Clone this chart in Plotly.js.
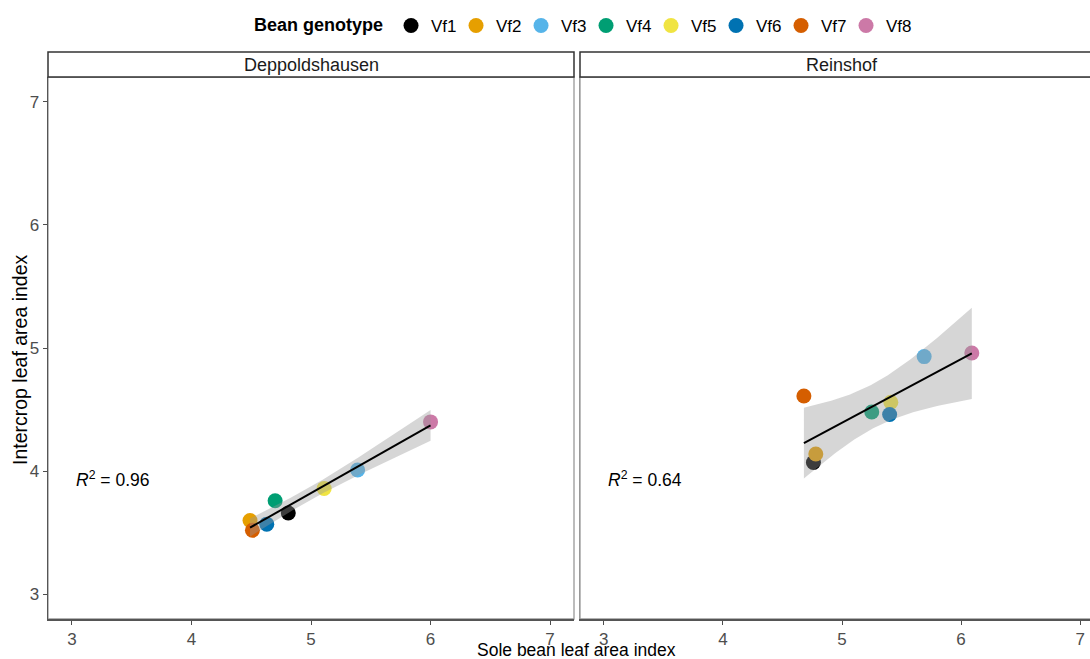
<!DOCTYPE html>
<html>
<head>
<meta charset="utf-8">
<script src="https://cdn.plot.ly/plotly-3.0.1.min.js"></script>
<style>
html,body{margin:0;padding:0;overflow:hidden;background:#fff;}
#chart{width:1110px;height:659px;}
</style>
</head>
<body>
<div id="chart"></div>
<script>
// ---- data ----
const genotypes = ['Vf1','Vf2','Vf3','Vf4','Vf5','Vf6','Vf7','Vf8'];
const colors = ['#000000','#E69F00','#56B4E9','#009E73','#F0E442','#0072B2','#D55E00','#CC79A7'];
const sites = ['Deppoldshausen','Reinshof'];
// Sole bean LAI (x) and intercrop LAI (y), per genotype
const soleDepp = [4.81, 4.49, 5.39, 4.70, 5.11, 4.63, 4.51, 6.00];
const interDepp = [3.66, 3.60, 4.01, 3.76, 3.86, 3.57, 3.52, 4.40];
const soleRein = [4.76, 4.78, 5.69, 5.25, 5.41, 5.40, 4.68, 6.09];
const interRein = [4.07, 4.14, 4.93, 4.48, 4.56, 4.46, 4.61, 4.96];
const r2Labels = ['0.96','0.64'];
const tickVals = [3,4,5,6,7];

// ---- helpers ----
function fit(x, y){
  const n = x.length;
  const mx = x.reduce((a,b)=>a+b,0)/n, my = y.reduce((a,b)=>a+b,0)/n;
  let sxx=0, sxy=0;
  for(let i=0;i<n;i++){ sxx+=(x[i]-mx)**2; sxy+=(x[i]-mx)*(y[i]-my); }
  const b = sxy/sxx, a = my - b*mx;
  let sse=0; for(let i=0;i<n;i++){ sse += (y[i]-a-b*x[i])**2; }
  const s = Math.sqrt(sse/(n-2));
  const t = 2.446912; // t(0.975, df=6)
  const xmin = Math.min(...x), xmax = Math.max(...x);
  const xs=[], yh=[], lo=[], hi=[];
  const N=80;
  for(let k=0;k<=N;k++){
    const xv = xmin + (xmax-xmin)*k/N;
    const yv = a + b*xv;
    const se = s*Math.sqrt(1/n + (xv-mx)**2/sxx);
    xs.push(xv); yh.push(yv); lo.push(yv - t*se); hi.push(yv + t*se);
  }
  return {xs, yh, lo, hi};
}

const panels = [
  {x: soleDepp, y: interDepp, xa:'x', ya:'y'},
  {x: soleRein, y: interRein, xa:'x2', ya:'y2'}
];

const traces = [];
panels.forEach((p, pi) => {
  genotypes.forEach((g, gi) => {
    traces.push({
      type:'scatter', mode:'markers', x:[p.x[gi]], y:[p.y[gi]],
      xaxis:p.xa, yaxis:p.ya, name:g, legendgroup:g, showlegend: pi===0,
      marker:{color:colors[gi], size:15, line:{width:0}},
      hoverinfo:'x+y+name'
    });
  });
  const f = fit(p.x, p.y);
  traces.push({
    type:'scatter', mode:'lines', x: f.xs.concat(f.xs.slice().reverse()),
    y: f.hi.concat(f.lo.slice().reverse()), fill:'toself',
    fillcolor:'rgba(153,153,153,0.4)', line:{width:0}, xaxis:p.xa, yaxis:p.ya,
    showlegend:false, hoverinfo:'skip'
  });
  traces.push({
    type:'scatter', mode:'lines', x:f.xs, y:f.yh, line:{color:'#000', width:2},
    xaxis:p.xa, yaxis:p.ya, showlegend:false, hoverinfo:'skip'
  });
});

const W = 1110, H = 659;
const mL = 48, mR = 6, mT = 77, mB = 40;
const plotW = W - mL - mR, plotH = H - mT - mB;
const d1 = [0, 526/plotW], d2 = [532/plotW, 1];
const stripTop = 1 + 25/plotH;
const FF = 'Liberation Sans, Arial, sans-serif';

const tickFont = {family:FF, size:17, color:'#4d4d4d'};
const axBase = {
  range:[2.8,7.2], tickvals:tickVals, ticks:'outside', ticklen:4, tickwidth:1,
  tickcolor:'#4d4d4d', showgrid:false, zeroline:false, showline:true,
  linecolor:'#555', linewidth:1.5, tickfont:tickFont, fixedrange:true
};

const shapes = [];
const annotations = [];
[d1, d2].forEach((d, i) => {
  shapes.push({type:'rect', xref:'paper', yref:'paper', x0:d[0], x1:d[1], y0:0, y1:1,
    line:{color:'#999', width:1.3}, fillcolor:'rgba(0,0,0,0)', layer:'below'});
  shapes.push({type:'rect', xref:'paper', yref:'paper', x0:d[0], x1:d[1], y0:1, y1:stripTop,
    line:{color:'#333', width:1.5}, fillcolor:'#fff'});
  annotations.push({xref:'paper', yref:'paper', x:(d[0]+d[1])/2, y:(1+stripTop)/2,
    xanchor:'center', yanchor:'middle', showarrow:false, text:sites[i],
    font:{family:FF, size:18, color:'#1a1a1a'}});
  annotations.push({xref: i===0?'x':'x2', yref: i===0?'y':'y2', x:3.02, y:3.94,
    xanchor:'left', yanchor:'middle', showarrow:false,
    text:'<i>R</i><sup>2</sup> = ' + r2Labels[i],
    font:{family:FF, size:17.5, color:'#000'}});
});

// axis titles as annotations
annotations.push({xref:'paper', yref:'paper', x:(576-mL)/plotW, y:-(649.5-619)/plotH,
  xanchor:'center', yanchor:'middle', showarrow:false, text:'Sole bean leaf area index',
  font:{family:FF, size:17.5, color:'#000'}});
annotations.push({xref:'paper', yref:'paper', x:(20-mL)/plotW, y:(619-360)/plotH,
  xanchor:'center', yanchor:'middle', showarrow:false, textangle:-90,
  text:'Intercrop leaf area index', font:{family:FF, size:19.5, color:'#000'}});

const layout = {
  width:W, height:H, margin:{l:mL, r:mR, t:mT, b:mB},
  paper_bgcolor:'#fff', plot_bgcolor:'#fff',
  font:{family:FF, size:17, color:'#000'},
  xaxis: Object.assign({}, axBase, {domain:d1, anchor:'y'}),
  yaxis: Object.assign({}, axBase, {domain:[0,1], anchor:'x'}),
  xaxis2: Object.assign({}, axBase, {domain:d2, anchor:'y2'}),
  yaxis2: Object.assign({}, axBase, {domain:[0,1], anchor:'x2', showticklabels:false, ticks:'', linecolor:'#999', linewidth:1.3}),
  shapes, annotations,
  legend:{orientation:'h', x:(582-mL)/plotW, xanchor:'center', y:1 + 51/plotH, yanchor:'middle',
    font:{size:17, color:'#000'}, title:{text:'<b>Bean genotype</b>', side:'left', font:{size:18}},
    itemsizing:'trace', tracegroupgap:0, entrywidth:20, entrywidthmode:'pixels', bgcolor:'rgba(0,0,0,0)'},
  showlegend:true
};

Plotly.newPlot('chart', traces, layout, {displayModeBar:false, responsive:false, staticPlot:true});
</script>
</body>
</html>
